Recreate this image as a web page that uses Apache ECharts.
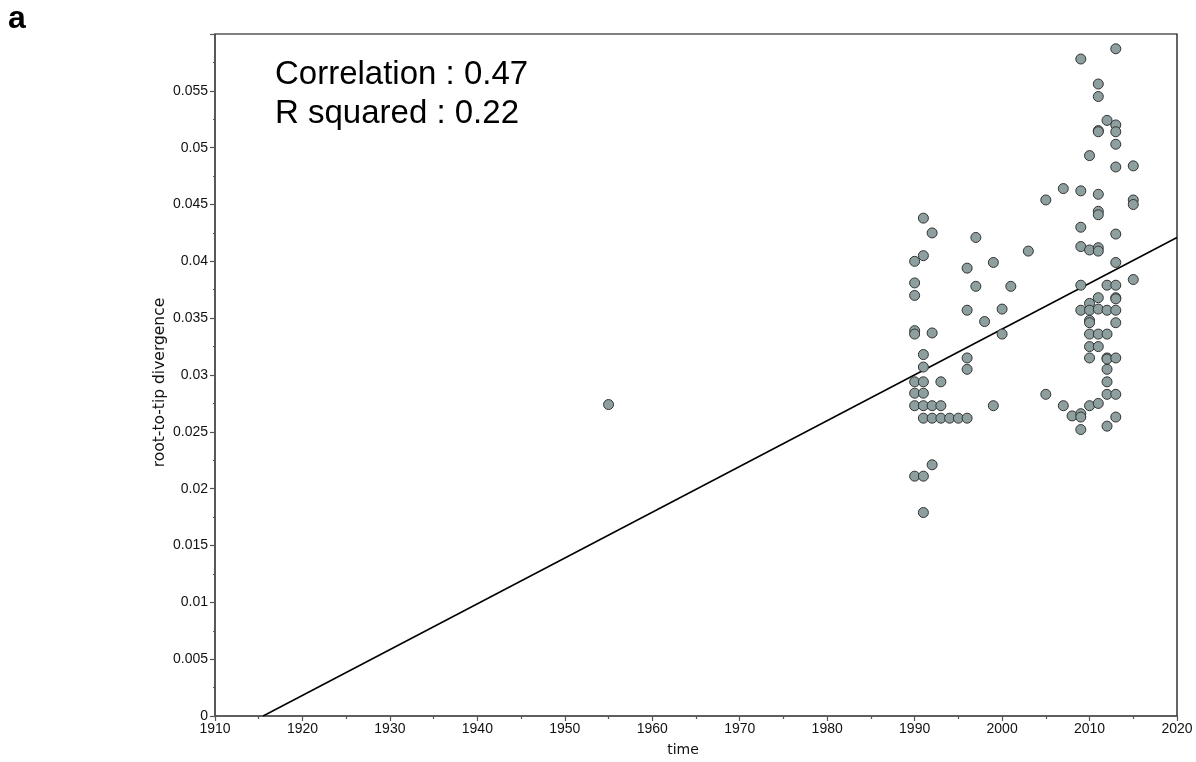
<!DOCTYPE html>
<html>
<head>
<meta charset="utf-8">
<title>Root-to-tip regression</title>
<script src="https://cdn.jsdelivr.net/npm/echarts@6/dist/echarts.min.js"></script>
<style>
  html, body { margin: 0; padding: 0; background: #ffffff; }
  #chart { width: 1196px; height: 762px; }
</style>
</head>
<body>
<div id="chart"></div>
<script>
// Sampling year of each tip
const years = [
  1955,
  1990, 1990, 1990, 1990, 1990, 1990, 1990, 1990, 1990,
  1991, 1991, 1991, 1991, 1991, 1991, 1991, 1991, 1991, 1991,
  1992, 1992, 1992, 1992, 1992,
  1993, 1993, 1993,
  1994, 1995,
  1996, 1996, 1996, 1996, 1996,
  1997, 1997,
  1998,
  1999, 1999,
  2000, 2000,
  2001, 2003,
  2005, 2005,
  2007, 2007,
  2008,
  2009, 2009, 2009, 2009, 2009, 2009, 2009, 2009, 2009,
  2010, 2010, 2010, 2010, 2010, 2010, 2010, 2010, 2010, 2010,
  2011, 2011, 2011, 2011, 2011, 2011, 2011, 2011, 2011, 2011, 2011, 2011, 2011, 2011,
  2012, 2012, 2012, 2012, 2012, 2012, 2012, 2012, 2012, 2012,
  2013, 2013, 2013, 2013, 2013, 2013, 2013, 2013, 2013, 2013, 2013, 2013, 2013, 2013, 2013,
  2015, 2015, 2015, 2015
];

// Root-to-tip divergence of each tip (same order as years)
const divergence = [
  0.0274,
  0.0400, 0.0381, 0.0370, 0.0339, 0.0336, 0.0294, 0.0284, 0.0273, 0.0211,
  0.0438, 0.0405, 0.0318, 0.0307, 0.0294, 0.0284, 0.0273, 0.0262, 0.0211, 0.0179,
  0.0425, 0.0337, 0.0273, 0.0262, 0.0221,
  0.0294, 0.0273, 0.0262,
  0.0262, 0.0262,
  0.0394, 0.0357, 0.0315, 0.0305, 0.0262,
  0.0421, 0.0378,
  0.0347,
  0.0399, 0.0273,
  0.0358, 0.0336,
  0.0378, 0.0409,
  0.0454, 0.0283,
  0.0464, 0.0273,
  0.0264,
  0.0578, 0.0462, 0.0430, 0.0413, 0.0379, 0.0357, 0.0266, 0.0263, 0.0252,
  0.0493, 0.0410, 0.0363, 0.0357, 0.0348, 0.0346, 0.0336, 0.0325, 0.0315, 0.0273,
  0.0556, 0.0545, 0.0515, 0.0514, 0.0459, 0.0444, 0.0441, 0.0412, 0.0409, 0.0368, 0.0358, 0.0336, 0.0325, 0.0275,
  0.0524, 0.0379, 0.0357, 0.0336, 0.0315, 0.0314, 0.0305, 0.0294, 0.0283, 0.0255,
  0.0587, 0.0520, 0.0514, 0.0503, 0.0483, 0.0424, 0.0399, 0.0379, 0.0368, 0.0367, 0.0357, 0.0346, 0.0315, 0.0283, 0.0263,
  0.0484, 0.0454, 0.0450, 0.0384
];

// Regression line end points: [year, divergence]
const fitStart = [1915.5, 0];
const fitEnd = [2020, 0.0421];

// Summary statistics printed in the plot
const statLines = ['Correlation : 0.47', 'R squared : 0.22'];
const panelLetter = 'a';

const points = years.map((y, i) => [y, divergence[i]]);

const tickFont = '"Liberation Sans", Arial, Helvetica, sans-serif';
const nameFont = '"DejaVu Sans", Verdana, sans-serif';
const axisColor = '#555555';

const chart = echarts.init(document.getElementById('chart'), null, { renderer: 'canvas' });

chart.setOption({
  animation: false,
  backgroundColor: '#ffffff',
  grid: {
    left: 215, right: 19, top: 34, bottom: 44.5,
    show: true,
    borderColor: '#000000',
    borderWidth: 1.2,
    backgroundColor: 'transparent'
  },
  xAxis: {
    type: 'value',
    min: 1910, max: 2020, interval: 10,
    name: 'time',
    nameLocation: 'middle',
    nameGap: 27,
    nameMoveOverlap: false,
    nameTextStyle: { fontFamily: nameFont, fontSize: 14, color: '#111', padding: [0, 26, 0, 0] },
    axisLine: { show: true, onZero: false, lineStyle: { color: axisColor, width: 1.5 } },
    axisTick: { show: true, length: 5, lineStyle: { color: axisColor, width: 1.2 } },
    minorTick: { show: true, splitNumber: 2, length: 3, lineStyle: { color: axisColor, width: 1.2 } },
    splitLine: { show: false },
    axisLabel: {
      fontFamily: tickFont, fontSize: 14, color: '#111', margin: 6,
      formatter: v => String(v)
    }
  },
  yAxis: {
    type: 'value',
    min: 0, max: 0.06, interval: 0.005,
    name: 'root-to-tip divergence',
    nameLocation: 'middle',
    nameGap: 47,
    nameRotate: 90,
    nameMoveOverlap: false,
    nameTextStyle: { fontFamily: nameFont, fontSize: 15.5, color: '#111', padding: [0, 15, 0, 0] },
    axisLine: { show: true, onZero: false, lineStyle: { color: axisColor, width: 1.5 } },
    axisTick: { show: true, length: 5, lineStyle: { color: axisColor, width: 1.2 } },
    minorTick: { show: true, splitNumber: 2, length: 2, lineStyle: { color: axisColor, width: 1.2 } },
    splitLine: { show: false },
    axisLabel: {
      fontFamily: tickFont, fontSize: 14, color: '#111', margin: 7,
      showMaxLabel: false,
      formatter: v => String(Math.round(v * 1000) / 1000)
    }
  },
  series: [
    {
      type: 'line',
      data: [fitStart, fitEnd],
      showSymbol: false,
      symbol: 'none',
      lineStyle: { color: '#000000', width: 1.5 },
      z: 2,
      silent: true
    },
    {
      type: 'scatter',
      data: points,
      symbol: 'circle',
      symbolSize: 10,
      itemStyle: { color: '#8e9f9f', borderColor: '#333333', borderWidth: 1, opacity: 1 },
      z: 3
    }
  ],
  graphic: [
    {
      type: 'text',
      left: 8, top: 3,
      style: { text: panelLetter, font: 'bold 32px "Liberation Sans", Arial, sans-serif', fill: '#000' }
    },
    {
      type: 'text',
      x: 275, y: 75,
      style: {
        text: statLines[0], font: '33px "Liberation Sans", Arial, sans-serif', fill: '#000',
        verticalAlign: 'middle'
      }
    },
    {
      type: 'text',
      x: 275, y: 114,
      style: {
        text: statLines[1], font: '33px "Liberation Sans", Arial, sans-serif', fill: '#000',
        verticalAlign: 'middle'
      }
    }
  ]
});
</script>
</body>
</html>
